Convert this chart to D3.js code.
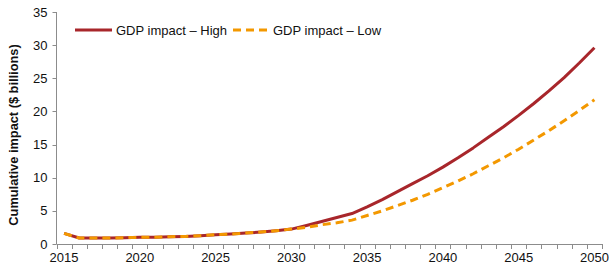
<!DOCTYPE html>
<html>
<head>
<meta charset="utf-8">
<script src="https://cdn.jsdelivr.net/npm/d3@7.9.0/dist/d3.min.js"></script>
<style>
  body { margin: 0; background: #fff; }
  svg { display: block; font-family: "Liberation Sans", Arial, sans-serif; }
</style>
</head>
<body>
<svg id="chart" width="609" height="273"></svg>
<script>
const years = d3.range(2015, 2051);
const highValues = [1.6, 0.9, 0.9, 0.9, 0.95, 1.0, 1.0, 1.1, 1.15, 1.25, 1.4, 1.5, 1.65, 1.8, 2.0, 2.25,
  2.8, 3.4, 4.0, 4.6, 5.6, 6.7, 7.9, 9.1, 10.3, 11.6, 13.0, 14.5, 16.1, 17.7, 19.4, 21.2, 23.1, 25.1, 27.3, 29.6];
const lowValues = [1.6, 0.9, 0.9, 0.9, 0.95, 1.0, 1.0, 1.1, 1.15, 1.25, 1.4, 1.5, 1.65, 1.8, 2.0, 2.25,
  2.5, 2.9, 3.2, 3.6, 4.3, 5.0, 5.8, 6.6, 7.5, 8.5, 9.5, 10.6, 11.8, 13.0, 14.3, 15.7, 17.1, 18.6, 20.15, 21.75];
const yTicks = [0, 5, 10, 15, 20, 25, 30, 35];
const xLabels = [2015, 2020, 2025, 2030, 2035, 2040, 2045, 2050];
const seriesNames = ['GDP impact \u2013 High', 'GDP impact \u2013 Low'];

const svg = d3.select('#chart');
const plotLeft = 56.5, plotRight = 602, plotTop = 12, plotBottom = 244;

// category axis, like excel
const x = d3.scaleBand().domain(years).range([plotLeft, plotRight]);
const y = d3.scaleLinear().domain([0, 35]).range([plotBottom, plotTop]);
const axisColor = '#8c8c8c';

// y axis
svg.append('line')
  .attr('x1', plotLeft).attr('x2', plotLeft)
  .attr('y1', plotTop).attr('y2', plotBottom)
  .attr('stroke', axisColor);
yTicks.forEach((t) => {
  svg.append('line')
    .attr('x1', plotLeft - 4).attr('x2', plotLeft)
    .attr('y1', Math.round(y(t)) + 0.5).attr('y2', Math.round(y(t)) + 0.5)
    .attr('stroke', axisColor);
  svg.append('text')
    .attr('x', plotLeft - 9).attr('y', y(t) + 4.5)
    .attr('text-anchor', 'end')
    .attr('font-size', 13)
    .attr('fill', '#111')
    .text(t);
});

// x axis
svg.append('line')
  .attr('x1', plotLeft).attr('x2', plotRight)
  .attr('y1', plotBottom + 0.5).attr('y2', plotBottom + 0.5)
  .attr('stroke', axisColor);
years.concat([null]).forEach((yr, i) => {
  const xx = i < years.length ? x(yr) : plotRight;
  svg.append('line')
    .attr('x1', Math.round(xx) + 0.5).attr('x2', Math.round(xx) + 0.5)
    .attr('y1', plotBottom).attr('y2', plotBottom + 5)
    .attr('stroke', axisColor);
});
xLabels.forEach((yr) => {
  svg.append('text')
    .attr('x', x(yr) + x.bandwidth() / 2)
    .attr('y', plotBottom + 18)
    .attr('text-anchor', 'middle')
    .attr('font-size', 13)
    .attr('fill', '#111')
    .text(yr);
});

// y title
svg.append('text')
  .attr('transform', 'translate(18,135) rotate(-90)')
  .attr('text-anchor', 'middle')
  .attr('font-size', 12.8)
  .attr('font-weight', 'bold')
  .attr('fill', '#111')
  .text('Cumulative impact ($ billions)');

const line = d3.line()
  .x((d, i) => x(years[i]) + x.bandwidth() / 2)
  .y((d) => y(d));

const colors = ['#a8262b', '#f39800'];

svg.append('path')
  .datum(highValues)
  .attr('d', line)
  .attr('fill', 'none')
  .attr('stroke', colors[0])
  .attr('stroke-width', 3)
  .attr('stroke-linejoin', 'round');

svg.append('path')
  .datum(lowValues)
  .attr('d', line)
  .attr('fill', 'none')
  .attr('stroke', colors[1])
  .attr('stroke-width', 3)
  .attr('stroke-dasharray', '8,5');

// legend
const legendItems = [
  { x1: 75, x2: 112, tx: 116, dash: null },
  { x1: 233, x2: 268, tx: 273, dash: '8,5' },
];
legendItems.forEach((it, i) => {
  svg.append('line')
    .attr('x1', it.x1).attr('x2', it.x2)
    .attr('y1', 30).attr('y2', 30)
    .attr('stroke', colors[i])
    .attr('stroke-width', 3)
    .attr('stroke-dasharray', it.dash);
  svg.append('text')
    .attr('x', it.tx).attr('y', 34.5)
    .attr('font-size', 13)
    .attr('fill', '#111')
    .text(seriesNames[i]);
});
</script>
</body>
</html>
